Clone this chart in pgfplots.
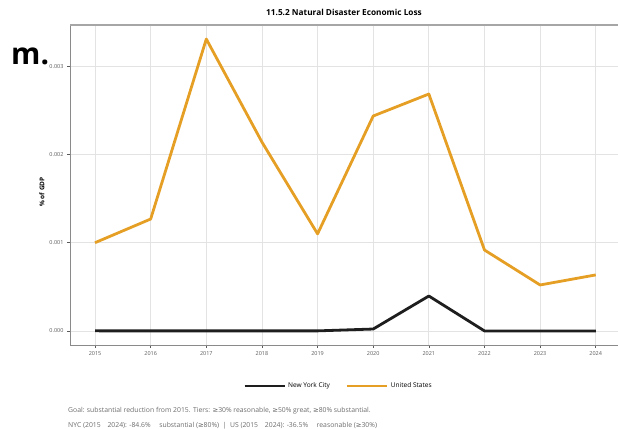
\documentclass[border=0pt]{standalone}
\usepackage{pgfplots}
\pgfplotsset{compat=1.18}
\usepackage{fontspec}
\setmainfont{Open Sans}
\newfontfamily\symfont{DejaVu Sans}
\newcommand{\myge}{{\symfont ≥}}
\definecolor{usorange}{HTML}{E69F25}
\definecolor{nycblack}{HTML}{1E1E1E}
\definecolor{gridc}{HTML}{E3E3E3}
\definecolor{axc}{HTML}{8A8A8A}
\definecolor{tickc}{HTML}{5A5A5A}
\begin{document}
\begin{tikzpicture}
\begin{axis}[
  at={(0,0)}, anchor=south west,
  scale only axis, width=548bp, height=320bp,
  xmin=2014.55, xmax=2024.4,
  ymin=-0.000159, ymax=0.003466,
  xtick={2015,...,2024},
  ytick={0,0.001,0.002,0.003},
  scaled y ticks=false,
  xticklabel style={/pgf/number format/1000 sep={}, font=\fontsize{5.5}{6}\selectfont, text=tickc},
  yticklabel style={/pgf/number format/.cd, fixed, fixed zerofill, precision=3, /tikz/.cd, font=\fontsize{5.5}{6}\selectfont, text=tickc},
  /pgf/number format/assume math mode=true,
  tick align=outside, tick pos=left,
  major tick length=3bp,
  tick style={color=tickc, line width=0.6bp},
  grid=major, grid style={gridc, line width=0.7bp},
  axis line style={draw=none},
  legend style={at={(0.49,-0.128)}, anchor=center, draw=none, fill=none, legend columns=2,
    font=\fontsize{6.6}{7}\selectfont,
    /tikz/every even column/.append style={column sep=14bp}},
  legend image code/.code={\draw[#1] (0bp,0bp) -- (40bp,0bp);},
  clip=false,
]
\draw[axc, line width=0.9bp] (rel axis cs:0,0) -- (rel axis cs:0,1);
\draw[axc, line width=0.9bp] (rel axis cs:0,0) -- (rel axis cs:1,0);
\draw[gray!70, line width=1.3bp] (rel axis cs:0,1) -- (rel axis cs:1,1);
\addplot[nycblack, line width=2.8bp, line join=round] coordinates {
(2015,0.0000013) (2016,0.0000012) (2017,0.0000011) (2018,0.0000010) (2019,0.0000010)
(2020,0.000022) (2021,0.000396) (2022,0.0000004) (2023,0.0000003) (2024,0.0000002)};
\addlegendentry{New York City}
\addplot[usorange, line width=2.8bp, line join=round] coordinates {
(2015,0.001000) (2016,0.001268) (2017,0.003307) (2018,0.002140) (2019,0.001100)
(2020,0.002435) (2021,0.002684) (2022,0.000917) (2023,0.000521) (2024,0.000635)};
\addlegendentry{United States}
\end{axis}
\node[rotate=90, font=\fontsize{6.5}{7}\selectfont\bfseries] at (-28bp,153bp) {\% of GDP};
\node[font=\fontsize{8.3}{9}\selectfont\bfseries] at (274bp,333bp) {11.5.2 Natural Disaster Economic Loss};
\node[font=\fontsize{30}{30}\selectfont\bfseries, anchor=base west, inner sep=0pt] at (-59bp,280bp) {m.};
\node[anchor=base west, inner sep=0pt, text=gray!85!black, font=\fontsize{6.85}{7}\selectfont] at (-2bp,-67.5bp) {Goal: substantial reduction from 2015. Tiers: \myge30\% reasonable, \myge50\% great, \myge80\% substantial.};
\node[anchor=base west, inner sep=0pt, text=gray!85!black, font=\fontsize{6.85}{7}\selectfont] at (-2bp,-82bp) {NYC (2015\quad 2024): -84.6\%\quad\ substantial (\myge80\%)\ \ |\ \ US (2015\quad 2024): -36.5\%\quad\ reasonable (\myge30\%)};
\pgfresetboundingbox
\path[use as bounding box] (-70bp,-84bp) rectangle (548bp,345bp);
\end{tikzpicture}
\end{document}
